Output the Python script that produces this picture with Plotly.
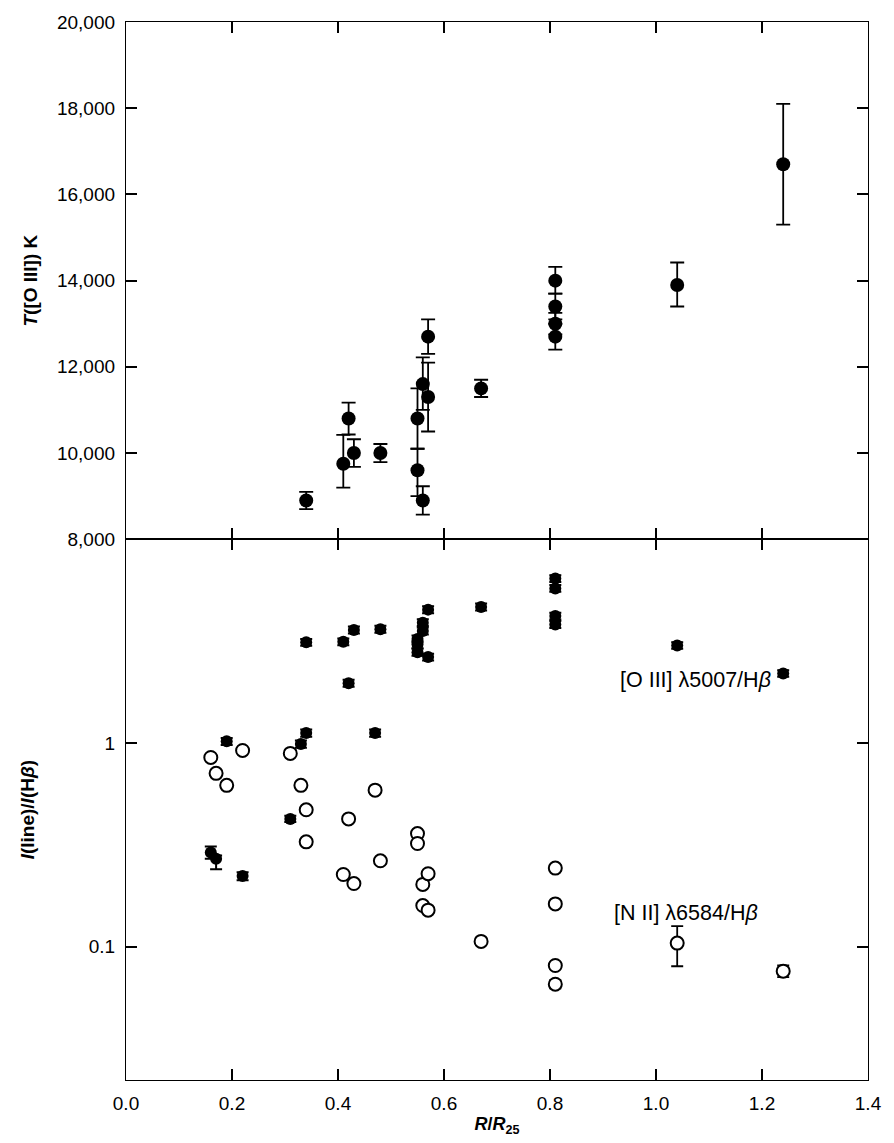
import plotly.graph_objects as go
from plotly.subplots import make_subplots

# ---- Top panel: T([O III]) vs R/R25 ----
r_top = [0.34, 0.41, 0.42, 0.43, 0.48, 0.55, 0.55, 0.56, 0.56, 0.57, 0.57, 0.67,
         0.81, 0.81, 0.81, 0.81, 1.04, 1.24]
t_oiii = [8900, 9750, 10800, 10000, 10000, 10800, 9600, 11600, 8900, 12700, 11300, 11500,
          14000, 13400, 13000, 12700, 13900, 16700]
t_err_plus = [200, 670, 370, 320, 210, 700, 500, 620, 330, 400, 800, 200,
              320, 300, 250, 300, 520, 1400]
t_err_minus = [200, 550, 370, 320, 210, 700, 600, 600, 330, 400, 800, 200,
               300, 300, 250, 300, 500, 1400]

# ---- Bottom panel: [O III] 5007 / Hbeta (filled) ----
r_o3 = [0.16, 0.17, 0.19, 0.22, 0.31, 0.33, 0.34, 0.34, 0.41, 0.42, 0.43, 0.47, 0.48,
        0.55, 0.55, 0.55, 0.56, 0.56, 0.57, 0.57, 0.67, 0.81, 0.81, 0.81, 0.81, 1.04, 1.24]
o3 = [0.29, 0.27, 1.02, 0.222, 0.424, 0.99, 1.12, 3.13, 3.15, 1.97, 3.60, 1.12, 3.63,
      2.80, 3.05, 3.25, 3.56, 3.91, 4.53, 2.65, 4.67, 6.44, 5.76, 4.21, 3.83, 3.02, 2.20]
o3_err_plus = [0.02, 0.01, 0.04, 0.01, 0.015, 0.04, 0.045, 0.12, 0.12, 0.08, 0.14, 0.045, 0.14,
               0.11, 0.12, 0.13, 0.14, 0.15, 0.18, 0.1, 0.18, 0.25, 0.22, 0.16, 0.15, 0.11, 0.08]
o3_err_minus = [0.02, 0.03, 0.04, 0.01, 0.015, 0.04, 0.045, 0.12, 0.12, 0.08, 0.14, 0.045, 0.14,
                0.11, 0.12, 0.13, 0.14, 0.15, 0.18, 0.1, 0.18, 0.25, 0.22, 0.16, 0.15, 0.11, 0.08]

# ---- Bottom panel: [N II] 6584 / Hbeta (open) ----
r_n2 = [0.16, 0.17, 0.19, 0.22, 0.31, 0.33, 0.34, 0.34, 0.41, 0.42, 0.43, 0.47, 0.48,
        0.55, 0.55, 0.56, 0.56, 0.57, 0.57, 0.67, 0.81, 0.81, 0.81, 0.81, 1.04, 1.24]
n2 = [0.85, 0.71, 0.62, 0.92, 0.89, 0.62, 0.47, 0.327, 0.226, 0.424, 0.204, 0.587, 0.264,
      0.359, 0.321, 0.202, 0.159, 0.228, 0.151, 0.106, 0.243, 0.162, 0.0807, 0.0653, 0.104, 0.0757]
n2_err_plus = [0.03, 0.025, 0.02, 0.03, 0.03, 0.02, 0.015, 0.011, 0.008, 0.014, 0.007, 0.02, 0.009,
               0.012, 0.011, 0.007, 0.005, 0.008, 0.005, 0.004, 0.008, 0.005, 0.003, 0.003, 0.022, 0.005]
n2_err_minus = [0.03, 0.025, 0.02, 0.03, 0.03, 0.02, 0.015, 0.011, 0.008, 0.014, 0.007, 0.02, 0.009,
                0.012, 0.011, 0.007, 0.005, 0.008, 0.005, 0.004, 0.008, 0.005, 0.003, 0.003, 0.024, 0.005]

x_ticks = [0.0, 0.2, 0.4, 0.6, 0.8, 1.0, 1.2, 1.4]
x_ticktext = ["0.0", "0.2", "0.4", "0.6", "0.8", "1.0", "1.2", "1.4"]
t_ticks = [8000, 10000, 12000, 14000, 16000, 18000, 20000]
ratio_ticks = [0.1, 1]
ratio_ticktext = ["0.1", "1"]

FONT = "Liberation Sans, Arial, sans-serif"
TICK_SIZE = 19
TITLE_SIZE = 19

fig = make_subplots(rows=2, cols=1, shared_xaxes=True, vertical_spacing=0,
                    row_heights=[0.4889, 0.5111])

fig.add_trace(go.Scatter(
    x=r_top, y=t_oiii, mode="markers",
    marker=dict(symbol="circle", size=14, color="black"),
    error_y=dict(type="data", symmetric=False, array=t_err_plus, arrayminus=t_err_minus,
                 color="black", thickness=1.8, width=7),
    showlegend=False), row=1, col=1)

fig.add_trace(go.Scatter(
    x=r_o3, y=o3, mode="markers",
    marker=dict(symbol="circle", size=12, color="black"),
    error_y=dict(type="data", symmetric=False, array=o3_err_plus, arrayminus=o3_err_minus,
                 color="black", thickness=2, width=6),
    showlegend=False), row=2, col=1)

fig.add_trace(go.Scatter(
    x=r_n2, y=n2, mode="markers",
    marker=dict(symbol="circle", size=13, color="white", line=dict(color="black", width=2)),
    error_y=dict(type="data", symmetric=False, array=n2_err_plus, arrayminus=n2_err_minus,
                 color="black", thickness=1.8, width=6),
    showlegend=False), row=2, col=1)

axis_common = dict(showline=True, linecolor="black", linewidth=1.3, mirror="ticks",
                   ticks="inside", ticklen=11, tickwidth=1.5, tickcolor="black",
                   showgrid=False, zeroline=False, ticklabelstandoff=6,
                   tickfont=dict(family=FONT, size=TICK_SIZE, color="black"))

fig.update_xaxes(range=[0, 1.4], tickvals=x_ticks, ticktext=x_ticktext, **axis_common)
fig.update_xaxes(showticklabels=False, row=1, col=1)
fig.update_xaxes(title=dict(text="<b><i>R</i>/<i>R</i><sub>25</sub></b>",
                            font=dict(family=FONT, size=18, color="black"), standoff=4),
                 row=2, col=1)

fig.update_yaxes(range=[8000, 20000], tickvals=t_ticks, tickformat=",",
                 title=dict(text="<b><i>T</i>([O III]) K</b>",
                            font=dict(family=FONT, size=TITLE_SIZE, color="black"), standoff=14),
                 row=1, col=1, **axis_common)
fig.update_yaxes(type="log", range=[-1.656, 1.002], tickvals=ratio_ticks, ticktext=ratio_ticktext,
                 title=dict(text="<b><i>I</i>(line)/<i>I</i>(H<i>β</i>)</b>",
                            font=dict(family=FONT, size=TITLE_SIZE, color="black"), standoff=48),
                 row=2, col=1, **axis_common)

fig.add_annotation(x=0.928, y=0.312, xref="x2", yref="y2", yanchor="middle",
                   text="[O III] λ5007/H<i>β</i>", showarrow=False, xanchor="left",
                   font=dict(family=FONT, size=21.5, color="black"))
fig.add_annotation(x=0.917, y=-0.835, xref="x2", yref="y2", yanchor="middle",
                   text="[N II] λ6584/H<i>β</i>", showarrow=False, xanchor="left",
                   font=dict(family=FONT, size=21.5, color="black"))

fig.update_layout(width=894, height=1143, plot_bgcolor="white", paper_bgcolor="white",
                  margin=dict(l=126, r=14, t=18, b=47),
                  font=dict(family=FONT, color="black"))

fig.write_html("out.html")
